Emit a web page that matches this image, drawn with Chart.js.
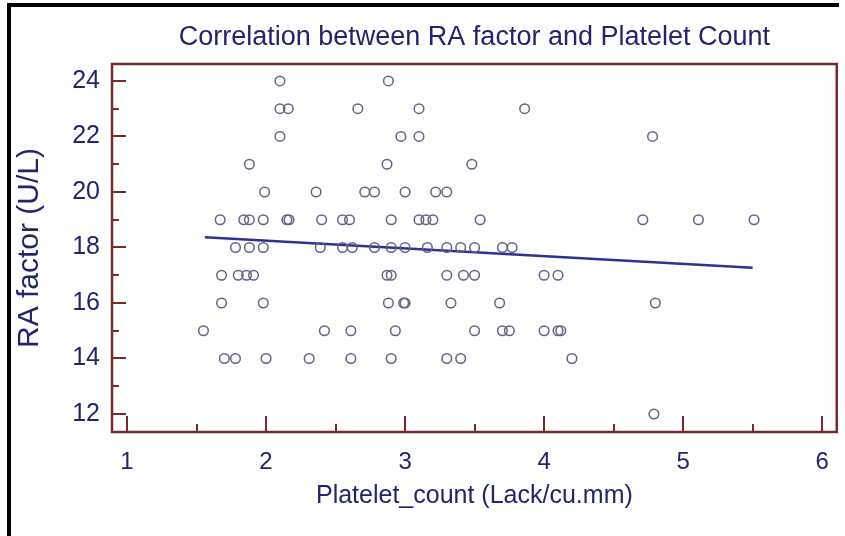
<!DOCTYPE html>
<html>
<head>
<meta charset="utf-8">
<title>RA factor and Platelet Count</title>
<script src="https://cdn.jsdelivr.net/npm/chart.js@4.4.1/dist/chart.umd.min.js"></script>
<style>
  html, body { margin: 0; padding: 0; background: #fff; }
</style>
</head>
<body>
<canvas id="chart_scatter" width="845" height="536"></canvas>
<script>
// RA factor levels (U/L) and the platelet counts (Lack/cu.mm) of the patients at each level
const raLevels = [24, 23, 22, 21, 20, 19, 18, 17, 16, 15, 14, 12];
const plateletByLevel = [
    [2.10, 2.88],
    [2.10, 2.16, 2.66, 3.10, 3.86],
    [2.10, 2.97, 3.10, 4.78],
    [1.88, 2.87, 3.48],
    [1.99, 2.36, 2.71, 2.78, 3.00, 3.22, 3.30],
    [1.67, 1.84, 1.88, 1.98, 2.15, 2.165, 2.40, 2.55, 2.60, 2.90, 3.10, 3.15, 3.20, 3.54, 4.71, 5.11, 5.51],
    [1.78, 1.88, 1.98, 2.39, 2.55, 2.62, 2.78, 2.90, 3.00, 3.16, 3.30, 3.40, 3.50, 3.70, 3.77],
    [1.68, 1.80, 1.86, 1.91, 2.87, 2.90, 3.30, 3.42, 3.50, 4.00, 4.10],
    [1.68, 1.98, 2.88, 2.99, 3.00, 3.33, 3.68, 4.80],
    [1.55, 2.42, 2.61, 2.93, 3.50, 3.70, 3.75, 4.00, 4.10, 4.12],
    [1.70, 1.78, 2.00, 2.31, 2.61, 2.90, 3.30, 3.40, 4.20],
    [4.79]
];

// regression line end points
const fitX = [1.56, 5.50];
const fitY = [18.37, 17.27];

// axis ticks
const xTicks = [1, 2, 3, 4, 5, 6];
const yTicks = [12, 14, 16, 18, 20, 22, 24];

const textColor = '#23246e';
const frameColor = '#7a2a2a';
const fontFamily = "'Liberation Sans', Arial, sans-serif";

// flatten the levels into x/y points for the scatter
const points = [];
raLevels.forEach((ra, i) => {
    plateletByLevel[i].forEach(p => points.push({x: p, y: ra}));
});
const fitLine = fitX.map((v, i) => ({x: v, y: fitY[i]}));

// midpoints between major ticks get the short ticks
function minorOf(ticks) {
    const m = [];
    for (let i = 0; i < ticks.length - 1; i++) m.push((ticks[i] + ticks[i + 1]) / 2);
    return m;
}

const frameTicks = { // box round the plot with the tick marks drawn inwards
    id: 'frameTicks',
    beforeDraw(chart) {
        const ctx = chart.ctx;
        ctx.save();
        ctx.strokeStyle = '#000';
        ctx.lineWidth = 4;
        ctx.beginPath();
        ctx.moveTo(7, 5);
        ctx.lineTo(839, 5);
        ctx.moveTo(9, 3);
        ctx.lineTo(9, 536);
        ctx.stroke();
        ctx.restore();
    },
    afterDatasetsDraw(chart) {
        const {ctx, chartArea: a, scales: {x, y}} = chart;
        ctx.save();
        ctx.strokeStyle = frameColor;
        ctx.lineWidth = 2;
        ctx.beginPath();
        yTicks.forEach(v => {
            const py = Math.round(y.getPixelForValue(v));
            ctx.moveTo(a.left, py);
            ctx.lineTo(a.left + 14, py);
        });
        minorOf(yTicks).forEach(v => {
            const py = Math.round(y.getPixelForValue(v));
            ctx.moveTo(a.left, py);
            ctx.lineTo(a.left + 7, py);
        });
        xTicks.forEach(v => {
            const px = Math.round(x.getPixelForValue(v));
            ctx.moveTo(px, a.bottom);
            ctx.lineTo(px, a.bottom - 16);
        });
        minorOf(xTicks).forEach(v => {
            const px = Math.round(x.getPixelForValue(v));
            ctx.moveTo(px, a.bottom);
            ctx.lineTo(px, a.bottom - 8);
        });
        ctx.stroke();
        ctx.lineWidth = 2.5;
        ctx.strokeRect(a.left, a.top, a.right - a.left, a.bottom - a.top);
        ctx.restore();
    }
};

const ctx = document.getElementById('chart_scatter').getContext('2d');
const scatterChart = new Chart(ctx, {
    type: 'scatter',
    data: {
        datasets: [
            {
                label: 'Patients',
                data: points,
                pointStyle: 'circle',
                pointRadius: 4.8,
                pointBorderWidth: 1.5,
                borderColor: '#62628a',
                backgroundColor: 'rgba(0,0,0,0)'
            },
            {
                label: 'Regression line',
                data: fitLine,
                showLine: true,
                borderColor: '#2e3190',
                borderWidth: 2.4,
                pointRadius: 0
            }
        ]
    },
    options: {
        responsive: false,
        animation: false,
        layout: {
            padding: {left: 0, right: 7, top: 0, bottom: 0}
        },
        plugins: {
            legend: {display: false},
            tooltip: {enabled: false},
            title: {
                display: true,
                fullSize: false,
                text: 'Correlation between RA factor and Platelet Count',
                color: textColor,
                font: {family: fontFamily, size: 27, weight: 'normal'},
                padding: {top: 21, bottom: 10.6}
            }
        },
        scales: {
            x: {
                type: 'linear',
                min: 0.892,
                max: 6.105,
                afterBuildTicks: s => { s.ticks = xTicks.map(v => ({value: v})); },
                afterFit: s => { s.height = 104; },
                grid: {display: false, drawTicks: false},
                border: {display: false},
                ticks: {
                    color: textColor,
                    font: {family: fontFamily, size: 24},
                    padding: 16,
                    maxRotation: 0,
                    autoSkip: false
                },
                title: {
                    display: true,
                    text: 'Platelet_count (Lack/cu.mm)',
                    color: textColor,
                    font: {family: fontFamily, size: 25},
                    padding: {top: 0, bottom: 25}
                }
            },
            y: {
                type: 'linear',
                min: 11.352,
                max: 24.61,
                afterBuildTicks: s => { s.ticks = yTicks.map(v => ({value: v})); },
                afterFit: s => { s.width = 112; },
                grid: {display: false, drawTicks: false},
                border: {display: false},
                ticks: {
                    color: textColor,
                    font: {family: fontFamily, size: 25},
                    padding: 12,
                    autoSkip: false
                },
                title: {
                    display: true,
                    text: 'RA factor (U/L)',
                    color: textColor,
                    font: {family: fontFamily, size: 30},
                    padding: {top: 12, bottom: 0}
                }
            }
        }
    },
    plugins: [frameTicks]
});
</script>
</body>
</html>
